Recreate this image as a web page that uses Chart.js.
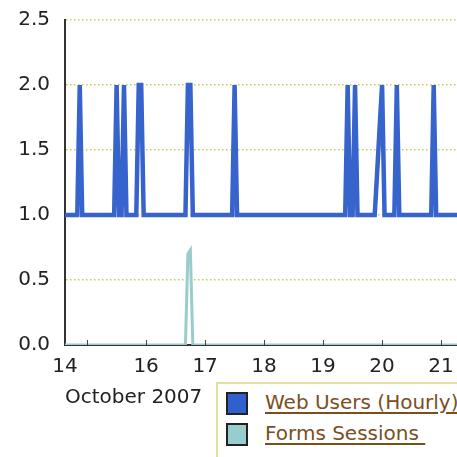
<!DOCTYPE html>
<html>
<head>
<meta charset="utf-8">
<script src="https://cdn.jsdelivr.net/npm/chart.js@4.4.1/dist/chart.umd.min.js"></script>
<style>
  html, body { margin: 0; padding: 0; background: #fff; }
  #wrap { position: relative; width: 457px; height: 457px; overflow: hidden; }
  #legend {
    position: absolute; left: 216px; top: 382px; width: 260px; height: 100px;
    border: 2px solid #e0e0a0; background: #fff;
    font-family: "DejaVu Sans", sans-serif; font-size: 20px;
  }
  .item { position: absolute; left: 8px; height: 24px; }
  .swatch { position: absolute; left: 0; top: 0; width: 18px; height: 19px; border: 2px solid #222; }
  .label {
    position: absolute; left: 39px; top: -2px; white-space: pre;
    color: #7b4f1d; text-decoration: underline; text-underline-offset: 3px;
  }
</style>
</head>
<body>
<div id="wrap">
  <canvas id="chart" width="457" height="457"></canvas>
  <div id="legend"></div>
</div>
<script>
// hourly samples, first one is Oct 14 15:00
const startDay = 14.625;
const webUsers = [
  1, 1, 1, 1, 1, 1, 2, 1, 1,                                              // 14th 15-23h
  1, 1, 1, 1, 1, 1, 1, 1, 1, 1, 1, 1, 2, 1, 1, 2, 1, 1, 1, 1, 1, 2, 2, 1, // 15th
  1, 1, 1, 1, 1, 1, 1, 1, 1, 1, 1, 1, 1, 1, 1, 1, 1, 2, 2, 1, 1, 1, 1, 1, // 16th
  1, 1, 1, 1, 1, 1, 1, 1, 1, 1, 1, 1, 2, 1, 1, 1, 1, 1, 1, 1, 1, 1, 1, 1, // 17th
  1, 1, 1, 1, 1, 1, 1, 1, 1, 1, 1, 1, 1, 1, 1, 1, 1, 1, 1, 1, 1, 1, 1, 1, // 18th
  1, 1, 1, 1, 1, 1, 1, 1, 1, 1, 2, 1, 1, 2, 1, 1, 1, 1, 1, 1, 1, 1, 1.33, 1.67, // 19th
  2, 1, 1, 1, 1, 1, 2, 1, 1, 1, 1, 1, 1, 1, 1, 1, 1, 1, 1, 1, 1, 2, 1, 1, // 20th
  1, 1, 1, 1, 1, 1, 1, 1                                                  // 21st
];
const formsSessions = [
  0, 0, 0, 0, 0, 0, 0, 0, 0,
  0, 0, 0, 0, 0, 0, 0, 0, 0, 0, 0, 0, 0, 0, 0, 0, 0, 0, 0, 0, 0, 0, 0, 0,
  0, 0, 0, 0, 0, 0, 0, 0, 0, 0, 0, 0, 0, 0, 0, 0, 0, 0.7, 0.73, 0, 0, 0, 0, 0,
  0, 0, 0, 0, 0, 0, 0, 0, 0, 0, 0, 0, 0, 0, 0, 0, 0, 0, 0, 0, 0, 0, 0, 0,
  0, 0, 0, 0, 0, 0, 0, 0, 0, 0, 0, 0, 0, 0, 0, 0, 0, 0, 0, 0, 0, 0, 0, 0,
  0, 0, 0, 0, 0, 0, 0, 0, 0, 0, 0, 0, 0, 0, 0, 0, 0, 0, 0, 0, 0, 0, 0, 0,
  0, 0, 0, 0, 0, 0, 0, 0, 0, 0, 0, 0, 0, 0, 0, 0, 0, 0, 0, 0, 0, 0, 0, 0,
  0, 0, 0, 0, 0, 0, 0, 0
];
const dayTicks = [15, 16, 17, 18, 19, 20, 21];
const yTicks = [0, 0.5, 1, 1.5, 2, 2.5];
const seriesNames = ['Web Users (Hourly)', 'Forms Sessions '];
const seriesColors = ['#3763cd', '#99cccc'];
const swatchColors = ['#2f60cc', '#99cccc'];
const xAxisTitle = 'October 2007';

const toPoints = arr => arr.map((v, i) => ({ x: startDay + i / 24, y: v }));

// little tick marks pointing up into the plot
const innerTicks = {
  id: 'innerTicks',
  afterDatasetsDraw(chart) {
    const { ctx, scales: { x }, chartArea } = chart;
    ctx.save();
    ctx.strokeStyle = '#444';
    ctx.lineWidth = 1;
    dayTicks.forEach(d => {
      const px = Math.round(x.getPixelForValue(d)) + 0.5;
      ctx.beginPath();
      ctx.moveTo(px, chartArea.bottom);
      ctx.lineTo(px, chartArea.bottom - 5);
      ctx.stroke();
    });
    ctx.restore();
  }
};

const font = { family: '"DejaVu Sans", sans-serif', size: 20 };

new Chart(document.getElementById('chart'), {
  type: 'line',
  data: {
    datasets: [
      {
        label: seriesNames[0], data: toPoints(webUsers),
        borderColor: seriesColors[0], borderWidth: 4.5, pointRadius: 0, tension: 0, order: 1
      },
      {
        label: seriesNames[1], data: toPoints(formsSessions),
        borderColor: seriesColors[1], borderWidth: 3, pointRadius: 0, tension: 0, order: 2
      }
    ]
  },
  options: {
    responsive: false,
    animation: false,
    layout: { padding: { top: 20, right: 0, left: 0, bottom: 47 } },
    plugins: { legend: { display: false }, tooltip: { enabled: false } },
    scales: {
      x: {
        type: 'linear', min: startDay, max: 21.27,
        afterBuildTicks: s => { s.ticks = [startDay, ...dayTicks].map(v => ({ value: v })); },
        afterFit: s => { s.paddingRight = 0; },
        grid: { display: false, drawTicks: false },
        border: { display: true, color: '#333', width: 2 },
        ticks: {
          color: '#222', font, padding: 10, maxRotation: 0, autoSkip: false,
          callback: v => v === startDay ? '14' : (v === 15 ? '' : String(v))
        },
        title: {
          display: true, text: xAxisTitle, align: 'start', color: '#222', font,
          padding: { top: -3, bottom: 0 }
        }
      },
      y: {
        min: 0, max: 2.5,
        afterBuildTicks: s => { s.ticks = yTicks.map(v => ({ value: v })); },
        afterFit: s => { s.width = 65; s.paddingTop = 0; },
        grid: {
          color: c => c.tick.value === 0 ? 'rgba(0,0,0,0)' : '#cccc55',
          lineWidth: 1.5, drawTicks: false
        },
        border: { display: true, color: '#333', width: 2, dash: [1.5, 2.5] },
        ticks: { color: '#222', font, padding: 15, callback: v => v.toFixed(1) }
      }
    }
  },
  plugins: [innerTicks]
});

// legend, drawn as html like the original page
const legend = document.getElementById('legend');
seriesNames.forEach((name, i) => {
  const item = document.createElement('div');
  item.className = 'item';
  item.style.top = (8 + i * 31) + 'px';
  item.innerHTML = `<span class="swatch" style="background:${swatchColors[i]}"></span>` +
    `<span class="label">${name}</span>`;
  legend.appendChild(item);
});
</script>
</body>
</html>
